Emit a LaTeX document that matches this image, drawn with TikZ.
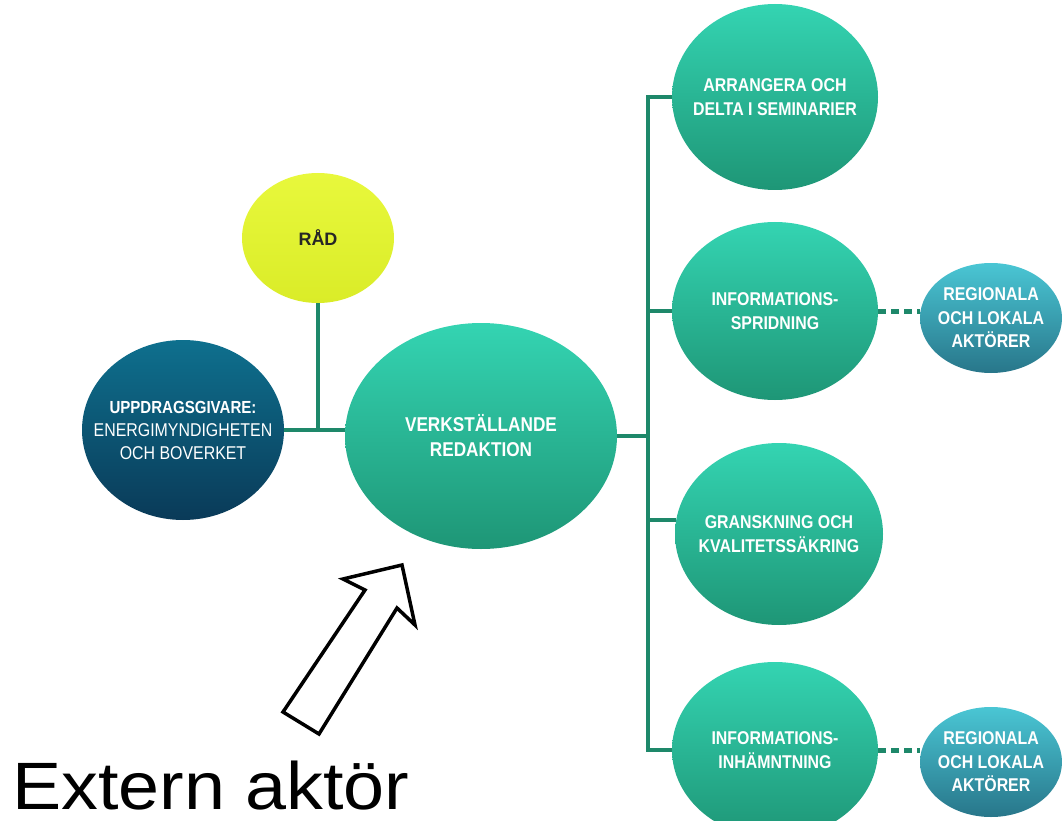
\documentclass[tikz,border=0pt]{standalone}
\usepackage{fontspec}
\setmainfont{Liberation Sans}
\newfontfamily\bollfont[FakeStretch=0.86]{Liberation Sans}
\newfontfamily\storfont[FakeStretch=1.1]{Liberation Sans}
\usetikzlibrary{shapes.geometric}

\definecolor{gruntopp}{RGB}{52,212,178}
\definecolor{grunbotten}{RGB}{30,150,118}
\definecolor{blatopp}{RGB}{14,112,142}
\definecolor{blabotten}{RGB}{10,58,88}
\definecolor{regtopp}{RGB}{74,198,212}
\definecolor{regbotten}{RGB}{40,118,138}
\definecolor{gultopp}{RGB}{232,248,60}
\definecolor{gulbotten}{RGB}{218,236,40}
\definecolor{linjefarg}{RGB}{30,136,106}

\begin{document}
\begin{tikzpicture}[x=1pt, y=-1pt,
    boll/.style={ellipse, inner xsep=-60pt, inner ysep=-30pt, align=center, text=white,
      font=\bollfont\bfseries\fontsize{18.5}{23.5}\selectfont},
    gron/.style={boll, top color=gruntopp, bottom color=grunbotten},
    bla/.style={boll, top color=blatopp, bottom color=blabotten},
    region/.style={boll, top color=regtopp, bottom color=regbotten,
      minimum width=142pt, minimum height=110pt},
    gul/.style={boll, text=black!85, top color=gultopp, bottom color=gulbotten},
    linje/.style={draw=linjefarg, line width=4pt},
    streck/.style={linje, line width=5pt, dash pattern=on 8pt off 5pt},
    pil/.style={draw=black, line width=3.5pt, fill=white, line join=miter}]
  \useasboundingbox (0,0) rectangle (1063,821);

  % mitten
  \node[gron, minimum width=272pt, minimum height=226pt, font=\bollfont\bfseries\fontsize{20}{25}\selectfont]
    (verk) at (481,436) {VERKSTÄLLANDE\\REDAKTION};
  \node[bla, minimum width=202pt, minimum height=180pt, font=\bollfont\fontsize{18.5}{23}\selectfont] (uppdrag) at (183,430)
    {{\bfseries\fontsize{17.5}{23}\selectfont UPPDRAGSGIVARE:}\\ENERGIMYNDIGHETEN\\OCH BOVERKET};
  \node[gul, minimum width=152pt, minimum height=130pt, font=\bfseries\fontsize{18}{22}\selectfont] (rad) at (318,238) {RÅD};

  % uppgifter
  \node[gron, minimum width=206pt, minimum height=186pt] (arr) at (775,97) {ARRANGERA OCH\\DELTA I SEMINARIER};
  \node[gron, minimum width=206pt, minimum height=178pt] (spr) at (775,311) {INFORMATIONS-\\SPRIDNING};
  \node[gron, minimum width=208pt, minimum height=182pt] (gran) at (779,534) {GRANSKNING OCH\\KVALITETSSÄKRING};
  \node[gron, minimum width=206pt, minimum height=176pt] (inh) at (775,750) {INFORMATIONS-\\INHÄMNTNING};

  % regionala aktörer
  \node[region] (reg1) at (991,318) {REGIONALA\\OCH LOKALA\\AKTÖRER};
  \node[region] (reg2) at (991,762) {REGIONALA\\OCH LOKALA\\AKTÖRER};

  % linjer
  \coordinate (buss) at (648,0);
  \draw[linje] (uppdrag.east) -- (uppdrag.east -| verk.west);
  \draw[linje] (rad.south) -- (rad.south |- uppdrag.east);
  \draw[linje] (verk.east) -- (verk.east -| buss);
  \draw[linje] (arr.west) -| (buss |- inh.west) -- (inh.west);
  \draw[linje] (spr.west) -- (spr.west -| buss);
  \draw[linje] (gran.172) -- (gran.172 -| buss);
  \draw[streck] (spr.east) -- (spr.east -| reg1.west);
  \draw[streck] (inh.east) -- (inh.east -| reg2.west);

  % extern aktör
  \draw[pil] (283,712) -- (365,590) -- (343,579) -- (402,565) -- (415,625) -- (397,608) -- (319,734) -- cycle;
  \node[anchor=base west, inner sep=0pt, font=\storfont\fontsize{67}{80}\selectfont] (extern) at (12,809) {Extern aktör};
\end{tikzpicture}
\end{document}
